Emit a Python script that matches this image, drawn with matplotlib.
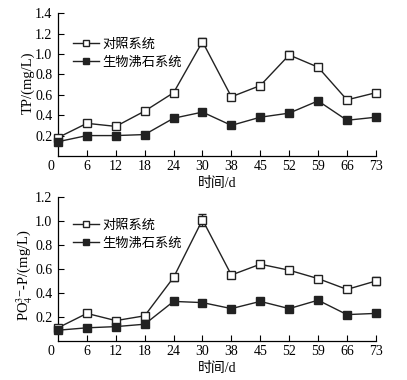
import numpy as np
import matplotlib
matplotlib.use("Agg")
import matplotlib.pyplot as plt
from matplotlib.lines import Line2D

plt.rcParams['font.family'] = ['Liberation Serif', 'Noto Sans CJK SC']
plt.rcParams['mathtext.fontset'] = 'stix'
plt.rcParams['font.size'] = 10.5

# sampling days (evenly spaced categories on the x axis)
days = ['0', '6', '12', '18', '24', '30', '38', '45', '52', '59', '66', '73']

# TP (mg/L)
tp_control = [0.18, 0.32, 0.29, 0.44, 0.62, 1.12, 0.58, 0.69, 0.99, 0.87, 0.55, 0.62]
tp_control_err = [0.02, 0.02, 0.02, 0.02, 0.03, 0.04, 0.02, 0.03, 0.04, 0.03, 0.02, 0.03]
tp_bio = [0.14, 0.20, 0.20, 0.21, 0.37, 0.43, 0.30, 0.38, 0.42, 0.54, 0.35, 0.38]
tp_bio_err = [0.01, 0.01, 0.01, 0.01, 0.02, 0.02, 0.01, 0.02, 0.02, 0.03, 0.02, 0.02]

# PO4(3-)-P (mg/L)
po4_control = [0.11, 0.23, 0.17, 0.21, 0.53, 1.01, 0.55, 0.64, 0.59, 0.52, 0.43, 0.50]
po4_control_err = [0.02, 0.02, 0.02, 0.02, 0.03, 0.05, 0.02, 0.03, 0.02, 0.02, 0.02, 0.03]
po4_bio = [0.09, 0.11, 0.12, 0.14, 0.33, 0.32, 0.27, 0.33, 0.27, 0.34, 0.22, 0.23]
po4_bio_err = [0.01, 0.01, 0.01, 0.01, 0.02, 0.02, 0.01, 0.02, 0.01, 0.02, 0.01, 0.02]

labels = ['对照系统', '生物沸石系统']

fig = plt.figure(figsize=(4.07, 3.80), dpi=100)
ax1 = fig.add_axes([0.1425, 0.5895, 0.781, 0.376])
ax2 = fig.add_axes([0.1425, 0.1026, 0.781, 0.379])

x = np.arange(len(days))
ink = '#222222'


def draw(ax, c, ce, b, be, ymax, ylabel, ylab_y, leg_y):
    ax.errorbar(x, c, yerr=ce, color=ink, lw=1.0, marker='s', ms=5.5,
                mfc='white', mec=ink, mew=1.0, capsize=3, elinewidth=1.0,
                clip_on=False, zorder=3)
    ax.errorbar(x, b, yerr=be, color=ink, lw=1.0, marker='s', ms=5.5,
                mfc=ink, mec=ink, capsize=3, elinewidth=1.0,
                clip_on=False, zorder=3)
    ax.set_xlim(0, len(days) - 1)
    ax.set_ylim(0, ymax)
    yt = np.arange(0.2, ymax + 0.01, 0.2)
    ax.set_yticks(yt)
    ax.set_yticklabels([f'{v:.1f}' for v in yt], fontsize=10)
    ax.set_xticks(x[1:])
    ax.set_xticklabels(days[1:], fontsize=10)
    ax.text(-0.25, -0.03, days[0], transform=ax.get_xaxis_transform(),
            ha='center', va='top', fontsize=10)
    ax.tick_params(axis='x', direction='in', length=4, width=0.8, pad=3)
    ax.tick_params(axis='y', direction='in', length=4, width=0.8, pad=4)
    for s in ['top', 'right']:
        ax.spines[s].set_visible(False)
    for s in ['left', 'bottom']:
        ax.spines[s].set_linewidth(0.9)
    ax.set_xlabel('时间/d', labelpad=3, fontsize=10)
    ax.set_ylabel(ylabel)
    ax.yaxis.set_label_coords(-0.072, ylab_y)
    handles = [
        Line2D([], [], color=ink, lw=1.0, marker='s', ms=5, mfc='white', mec=ink),
        Line2D([], [], color=ink, lw=1.0, marker='s', ms=5, mfc=ink, mec=ink),
    ]
    ax.legend(handles, labels, loc='upper left', bbox_to_anchor=(0.03, leg_y),
              frameon=False, handlelength=2.0, handletextpad=0.25,
              labelspacing=0.45, borderaxespad=0, fontsize=9.5)


draw(ax1, tp_control, tp_control_err, tp_bio, tp_bio_err, 1.4, 'TP/(mg/L)',
     0.51, 0.86)
draw(ax2, po4_control, po4_control_err, po4_bio, po4_bio_err, 1.2,
     r'PO$_4^{3\mathsf{-}}$-P/(mg/L)', 0.46, 0.88)

fig.savefig('out.png', dpi=100)
